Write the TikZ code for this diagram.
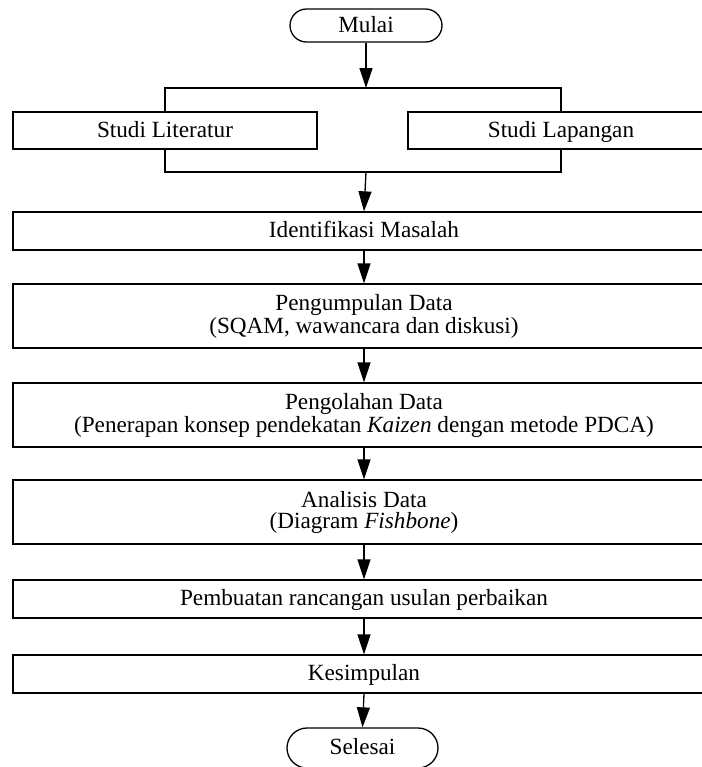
\documentclass[tikz,border=0pt]{standalone}
\usepackage{fontspec}
\setmainfont{Liberation Serif}
\usetikzlibrary{arrows.meta}
\tikzset{
  base/.style={draw=black, line width=0.65pt, inner sep=0pt, align=center,
    font=\fontsize{11.6}{10.5}\selectfont},
  oneline/.style={text height=8.4pt, text depth=1.9pt},
  wide/.style={base, oneline, minimum width=351pt, minimum height=19pt},
  widetwo/.style={base, minimum width=351pt, minimum height=32pt},
  side/.style={base, oneline, minimum height=18.5pt},
  term/.style={base, oneline, rounded corners=8.25pt, minimum width=76pt, minimum height=16.5pt},
  arr/.style={line width=0.65pt, -{Triangle[length=10pt,width=6.5pt]}},
  ln/.style={line width=0.65pt}
}
\begin{document}
\begin{tikzpicture}[x=0.5pt,y=-0.5pt]
\clip (0,0) rectangle (702,767);
\node[term] (mulai) at (366,25.5) {Mulai};
\node[side, minimum width=152pt] (lit) at (165,130.5) {Studi Literatur};
\node[side, minimum width=153pt] (lap) at (561,130.5) {Studi Lapangan};
\coordinate (bt) at (366,88);
\coordinate (bb) at (366,172);
\node[wide] (ident) at (364,231) {Identifikasi Masalah};
\node[widetwo] (kumpul) at (364,316) {Pengumpulan Data\\(SQAM, wawancara dan diskusi)};
\node[widetwo] (olah) at (364,415) {Pengolahan Data\\(Penerapan konsep pendekatan \textit{Kaizen} dengan metode PDCA)};
\node[widetwo] (anal) at (364,512) {Analisis Data\\(Diagram \textit{Fishbone})};
\node[wide] (buat) at (364,599) {Pembuatan rancangan usulan perbaikan};
\node[wide] (kes) at (364,674) {Kesimpulan};
\node[term, rounded corners=10pt, minimum width=75.5pt, minimum height=20pt] (sel) at (362.5,748) {Selesai};

\draw[arr] (mulai.south) -- (bt);
\draw[ln] (lit.north) -- (lit.north |- bt) -- (lap.north |- bt) -- (lap.north);
\draw[ln] (lit.south) -- (lit.south |- bb) -- (lap.south |- bb) -- (lap.south);
\draw[arr] (bb) -- (ident.north);
\draw[arr] (ident.south) -- (kumpul.north);
\draw[arr] (kumpul.south) -- (olah.north);
\draw[arr] (olah.south) -- (anal.north);
\draw[arr] (anal.south) -- (buat.north);
\draw[arr] (buat.south) -- (kes.north);
\draw[arr] (kes.south) -- (sel.north);
\end{tikzpicture}
\end{document}
